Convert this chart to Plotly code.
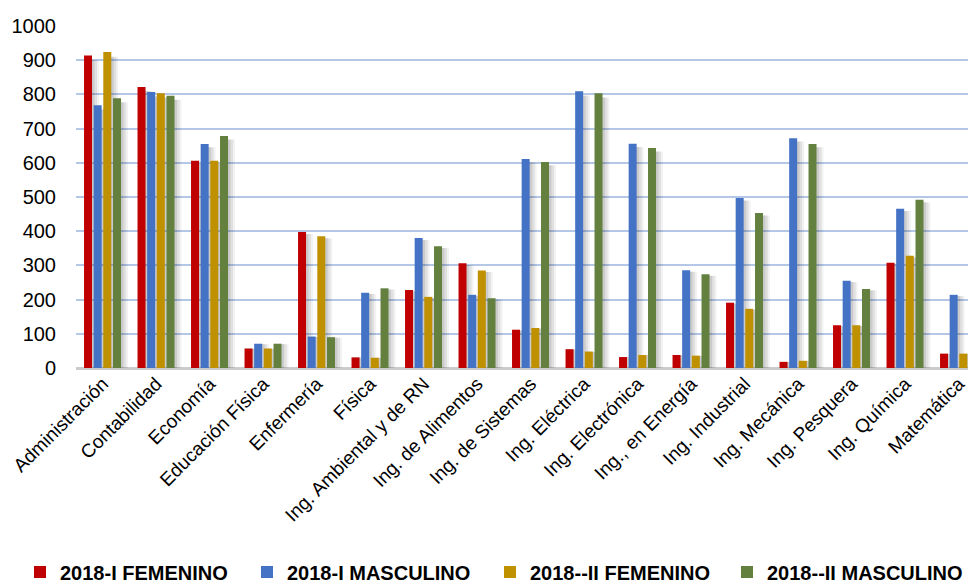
import plotly.graph_objects as go

categories = ["Administración", "Contabilidad", "Economía", "Educación Física", "Enfermería",
              "Física", "Ing. Ambiental y de RN", "Ing. de Alimentos", "Ing. de Sistemas",
              "Ing. Eléctrica", "Ing. Electrónica", "Ing., en Energía", "Ing. Industrial",
              "Ing. Mecánica", "Ing. Pesquera", "Ing. Química", "Matemática"]

fem_2018_I = [914, 822, 606, 57, 398, 31, 228, 306, 112, 55, 32, 38, 191, 18, 125, 308, 42]
masc_2018_I = [768, 807, 655, 71, 92, 220, 380, 214, 611, 809, 656, 286, 497, 672, 255, 466, 214]
fem_2018_II = [924, 803, 606, 57, 385, 30, 208, 285, 117, 48, 38, 36, 173, 21, 125, 328, 42]
masc_2018_II = [789, 796, 678, 71, 90, 233, 356, 204, 602, 803, 643, 274, 453, 655, 231, 492, 216]

series_names = ["2018-I FEMENINO", "2018-I MASCULINO", "2018--II FEMENINO", "2018--II MASCULINO"]
series_values = [fem_2018_I, masc_2018_I, fem_2018_II, masc_2018_II]
colors = ["#c00000", "#4472c4", "#bf9000", "#63803f"]
y_ticks = [0, 100, 200, 300, 400, 500, 600, 700, 800, 900, 1000]

# layout geometry (px) -- page has an 8px body margin
PX_PER_CAT = 53.5
bar_offsets = [-0.350, -0.170, 0.010, 0.192]
bar_width = 8 / PX_PER_CAT
legend_x_px = [20, 247, 490, 727]
legend_keys = ["legend", "legend2", "legend3", "legend4"]

xs = list(range(len(categories)))
fig = go.Figure()

# soft drop shadows (drawn first, behind bars)
for vals, off in zip(series_values, bar_offsets):
    for dx, w, a in [(1.0, 14, 0.05), (2.0, 11, 0.07), (2.5, 8, 0.09)]:
        fig.add_trace(go.Bar(x=xs, y=[v * 0.985 for v in vals], offset=off + dx / PX_PER_CAT,
                             width=w / PX_PER_CAT, showlegend=False, hoverinfo="skip",
                             marker=dict(color=f"rgba(0,0,0,{a})", line=dict(width=0))))

for name, vals, col, off, lk in zip(series_names, series_values, colors, bar_offsets, legend_keys):
    fig.add_trace(go.Bar(x=xs, y=vals, name=name, offset=off, width=bar_width, legend=lk,
                         marker=dict(color=col, line=dict(width=0))))

legend_font = dict(family="Liberation Sans, Arial, sans-serif", size=20, color="#000000", weight="bold")
legends = {}
for lk, lx in zip(legend_keys, legend_x_px):
    legends[lk] = dict(orientation="v", x=(lx - 76) / 900, xanchor="left",
                       y=(368 - 572) / 342, yanchor="middle", font=legend_font,
                       bgcolor="rgba(0,0,0,0)", itemwidth=30)

fig.update_layout(
    width=968, height=585,
    margin=dict(l=68, r=0, t=18, b=225, autoexpand=False),
    paper_bgcolor="white", plot_bgcolor="white",
    barmode="overlay",
    font=dict(family="Liberation Sans, Arial, sans-serif", color="#000000"),
    showlegend=True,
    **legends,
)
fig.update_xaxes(
    range=[-0.5, -0.5 + 900 / PX_PER_CAT],
    tickmode="array", tickvals=xs, ticktext=categories,
    tickangle=-45, tickfont=dict(size=19, family="Liberation Sans, Arial, sans-serif"),
    ticklabeloverflow="allow",
    showgrid=False, showline=False, zeroline=False, ticks="",
)
fig.update_yaxes(
    range=[0, 1000], tickmode="array", tickvals=y_ticks,
    tickfont=dict(size=20, family="Liberation Sans, Arial, sans-serif"),
    showgrid=True, gridcolor="#b4c7e7", gridwidth=2,
    zeroline=True, zerolinecolor="#cccccc", zerolinewidth=3,
    ticks="outside", ticklen=15, tickcolor="rgba(0,0,0,0)",
    showline=False,
)

fig.write_html("out.html")
